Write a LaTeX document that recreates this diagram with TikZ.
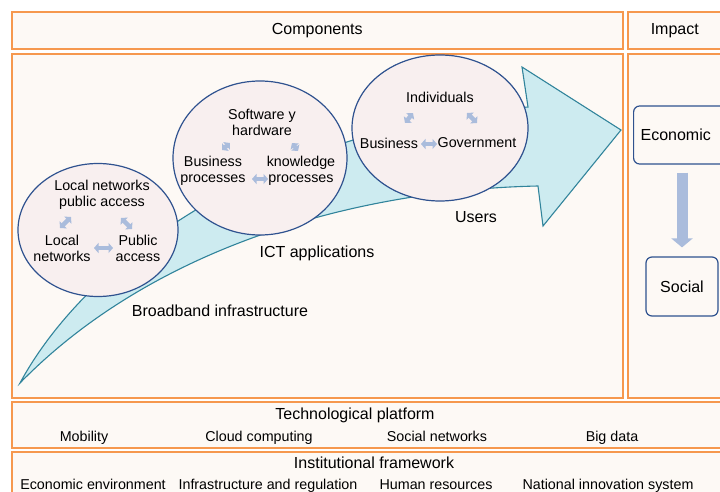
\documentclass[tikz,border=0pt]{standalone}
\usepackage{fontspec}
\setmainfont{Liberation Sans}
\usepackage{tikz}
\usetikzlibrary{positioning, calc, arrows.meta, shapes.geometric}

\definecolor{panelorange}{RGB}{246,152,78}
\definecolor{panelfill}{RGB}{253,249,245}
\definecolor{bubblefill}{RGB}{248,239,239}
\definecolor{bubbleline}{RGB}{47,82,143}
\definecolor{flowfill}{RGB}{205,235,240}
\definecolor{flowline}{RGB}{49,132,155}
\definecolor{linkblue}{RGB}{170,188,220}

\begin{document}
\begin{tikzpicture}[
    x=1pt, y=-1pt,
    every node/.style={font=\fontsize{14.3}{16}\selectfont, inner sep=1pt, align=center},
    heading/.style={font=\fontsize{16}{18}\selectfont},
    item/.style={anchor=base},
    panel/.style={draw=panelorange, fill=panelfill, line width=1.6pt, anchor=north west, inner sep=0pt},
    bubble/.style={ellipse, draw=bubbleline, fill=bubblefill, line width=1.2pt, inner sep=0pt},
    impactbox/.style={draw=bubbleline, fill=panelfill, rounded corners=6pt, line width=1.2pt, heading},
    biarrow/.style={draw=linkblue, line width=4.4pt, {Triangle[length=4.5pt,width=10pt]}-{Triangle[length=4.5pt,width=10pt]}},
    flow/.style={draw=flowline, fill=flowfill, line width=1.1pt}
]
\clip (0,0) rectangle (720,492);
\fill[white] (0,0) rectangle (720,492);

% 定义外框
\node[panel, heading, minimum width=611pt, minimum height=37pt] (comphead) at (11,11) {Components};
\node[panel, heading, minimum width=94pt, minimum height=37pt] (impacthead) at (627,11) {Impact};
\node[panel, minimum width=611pt, minimum height=344pt] (comppanel) at (11,53) {};
\node[panel, minimum width=94pt, minimum height=344pt] (impactpanel) at (627,53) {};
\node[panel, minimum width=712pt, minimum height=46pt] (techpanel) at (11,401) {};
\node[panel, minimum width=712pt, minimum height=45pt] (instpanel) at (11,451) {};

% 大箭头
\coordinate (tail) at (20,383);
\draw[flow] (tail) .. controls (95,245) and (290,125) .. (528,107) -- (522,67) -- (621,130)
    -- (543,226) -- (538,186) .. controls (350,190) and (150,250) .. (tail) -- cycle;

% 三个椭圆
\node[bubble, minimum width=160pt, minimum height=133pt] (broadband) at (98,230) {};
\node[bubble, minimum width=174pt, minimum height=154pt] (ictapps) at (260,158) {};
\node[bubble, minimum width=176pt, minimum height=146pt] (users) at (440,128) {};

% 椭圆内文字
\node (lnpa) at (102,195) {Local networks\\public access};
\node (ln) at (62,248) {Local\\networks};
\node (pa) at (138,248) {Public\\access};

\node (sw) at (262,122) {Software y\\hardware};
\node (bp) at (213,171) {Business\\processes};
\node (kp) at (301,171) {knowledge\\processes};

\node (ind) at (440,97) {Individuals};
\node (bus) at (389,143) {Business};
\node (gov) at (477,143) {Government};

% 双向小箭头
\draw[biarrow] ([xshift=-2pt,yshift=20pt]ln.center) -- ([xshift=-31pt,yshift=-22pt]lnpa.center);
\draw[biarrow] ([xshift=19pt,yshift=-23pt]lnpa.center) -- ([xshift=-6pt,yshift=19pt]pa.center);
\draw[biarrow] ([xshift=32pt]ln.center) -- ([xshift=-25pt]pa.center);

\draw[biarrow] ([xshift=9pt,yshift=21pt]bp.center) -- ([xshift=-32pt,yshift=-21pt]sw.center);
\draw[biarrow] ([xshift=30pt,yshift=-21pt]sw.center) -- ([xshift=-3pt,yshift=20pt]kp.center);
\draw[biarrow] ([xshift=39pt,yshift=-8pt]bp.center) -- ([xshift=-33pt,yshift=-8pt]kp.center);

\draw[biarrow] ([xshift=16pt,yshift=20pt]bus.center) -- ([xshift=-27pt,yshift=-16pt]ind.center);
\draw[biarrow] ([xshift=27pt,yshift=-16pt]ind.center) -- ([yshift=20pt]gov.center);
\draw[biarrow] ([xshift=32pt,yshift=-1pt]bus.center) -- ([xshift=-40pt,yshift=-1pt]gov.center);

% 标签
\node[heading] (bblabel) at (220,311) {Broadband infrastructure};
\node[heading] (ictlabel) at (317,253) {ICT applications};
\node[heading] (userlabel) at (476,217) {Users};

% 影响
\node[impactbox, anchor=west, text width=80pt, align=left, inner xsep=7pt, minimum height=58pt] (economic) at (633,135) {Economic};
\node[impactbox, minimum width=72pt, minimum height=59pt] (social) at (682,286.5) {Social};
\draw[draw=linkblue, line width=11pt, -{Triangle[length=9pt,width=21pt]}, shorten <=8pt, shorten >=9pt]
    (social.north |- economic.south) -- (social.north);

% 技术平台
\node[heading, item] (techplat) at (355,419) {Technological platform};
\node[item] (mobility) at (84,441) {Mobility};
\node[item] (cloud) at (259,441) {Cloud computing};
\node[item] (socialnet) at (437,441) {Social networks};
\node[item] (bigdata) at (612,441) {Big data};

% 制度框架
\node[heading, item] (instframe) at (374,468) {Institutional framework};
\node[item] (econenv) at (93,489) {Economic environment};
\node[item] (infra) at (268,489) {Infrastructure and regulation};
\node[item] (human) at (436,489) {Human resources};
\node[item] (nis) at (608,489) {National innovation system};

\end{tikzpicture}
\end{document}
